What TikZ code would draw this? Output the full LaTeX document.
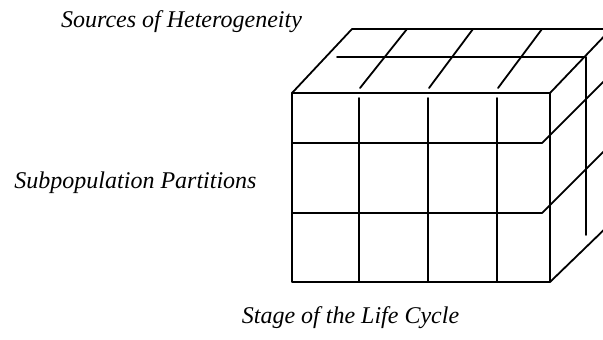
\documentclass[tikz,border=0pt]{standalone}
\usepackage{fontspec}
\setmainfont{Liberation Serif}

\begin{document}
\begin{tikzpicture}[x=0.5pt, y=-0.5pt, font=\fontsize{12}{14}\selectfont\itshape,
  ln/.style={line width=0.9pt, line cap=round, line join=round},
  lbl/.style={anchor=base, inner sep=0pt}]
\useasboundingbox (0,0) rectangle (603,339);
\clip (0,0) rectangle (603,339);
\node[lbl] (src) at (181.5,27) {Sources of Heterogeneity};
\node[lbl] (sub) at (135.5,188) {Subpopulation Partitions};
\node[lbl] (stage) at (350.5,323.5) {Stage of the Life Cycle};
\draw[ln] (292,93) rectangle (550,282);
\draw[ln] (292,93) -- (352,29) -- (612,29);
\draw[ln] (550,93) -- (612,28);
\draw[ln] (337,57) -- (586,57) -- (586,235);
\foreach \x/\bx in {359/407, 428/473, 497/542} {
  \draw[ln] (\x,98) -- (\x,282);
  \draw[ln] (\x+1,88) -- (\bx,29);
}
\foreach \y/\ry in {143/75, 213/145}
  \draw[ln] (292,\y) -- (542,\y) -- (610,\ry);
\draw[ln] (550,282) -- (612,222);
\end{tikzpicture}
\end{document}
